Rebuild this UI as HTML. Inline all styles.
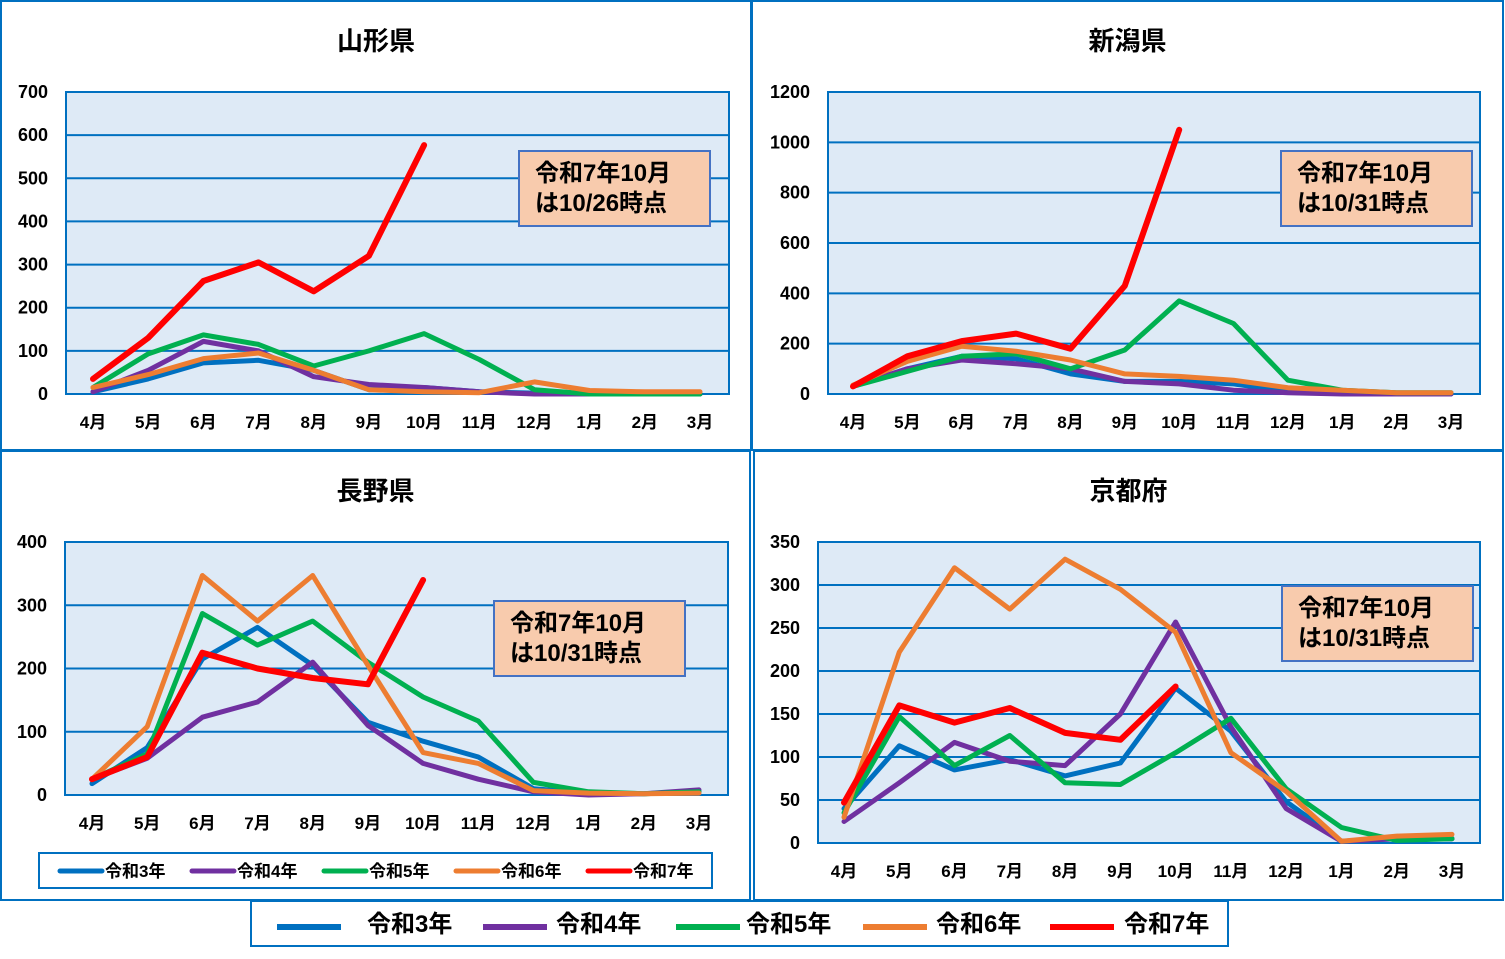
<!DOCTYPE html>
<html><head><meta charset="utf-8"><style>
html,body{margin:0;padding:0;background:#fff;}
svg text{font-family:"Liberation Sans","Noto Sans CJK JP",sans-serif;font-weight:bold;fill:#000;}
</style></head><body>
<svg id="s" width="1505" height="954" xmlns="http://www.w3.org/2000/svg"></svg>
<script>
const s=document.getElementById('s');let h='';
const C={b:'#0070C0',p:'#7030A0',g:'#00B050',o:'#ED7D31',r:'#FF0000'};
const M=['4月','5月','6月','7月','8月','9月','10月','11月','12月','1月','2月','3月'];
function panel(o){
 const {bx,by,bw,bh,title,px0,px1,py0,py1,max,step,m0,m1,note,nx,ny,data}=o;
 h+=`<rect x="${bx}" y="${by}" width="${bw}" height="${bh}" fill="#fff" stroke="#0070C0" stroke-width="2"/>`;
 h+=`<text x="${bx+bw/2}" y="${by+49}" font-size="26" text-anchor="middle">${title}</text>`;
 h+=`<rect x="${px0}" y="${py0}" width="${px1-px0}" height="${py1-py0}" fill="#DEEAF6" stroke="#0070C0" stroke-width="2"/>`;
 for(let v=0;v<=max;v+=step){const y=py1-(py1-py0)*v/max;
  h+=`<line x1="${px0}" x2="${px1}" y1="${y}" y2="${y}" stroke="#0070C0" stroke-width="2"/>`;
  h+=`<text x="${px0-18}" y="${y+6}" font-size="18" text-anchor="end">${v}</text>`;}
 const X=i=>m0+(m1-m0)*i/11;
 M.forEach((m,i)=>h+=`<text x="${X(i)}" y="${py1+34}" font-size="17" text-anchor="middle">${m}</text>`);
 for(const k of ['b','p','g','o','r']){const d=data[k];
  const pts=d.map((v,i)=>`${X(i).toFixed(1)},${(py1-(py1-py0)*v/max).toFixed(1)}`).join(' ');
  h+=`<polyline points="${pts}" fill="none" stroke="${C[k]}" stroke-width="${k=='r'?6:5}" stroke-linejoin="round" stroke-linecap="round"/>`;}
 if(note){h+=`<rect x="${nx}" y="${ny}" width="191" height="75" fill="#F8CBAD" stroke="#4472C4" stroke-width="2"/>`;
  h+=`<text x="${nx+16}" y="${ny+30}" font-size="24">令和7年10月</text><text x="${nx+16}" y="${ny+60}" font-size="24">は${note}時点</text>`;}
}
panel({bx:1,by:1,bw:750,bh:449,title:'山形県',px0:66,px1:729,py0:92,py1:394,max:700,step:100,m0:93,m1:700,note:'10/26',nx:519,ny:151,
data:{r:[35,130,262,305,238,320,577],g:[15,93,137,115,65,100,140,80,10,0,0,0],p:[5,55,122,100,40,22,15,5,0,0,0,0],b:[5,35,72,78,55,10,15,5,2,0,0,0],o:[15,45,82,95,55,10,5,3,28,8,5,5]}});
panel({bx:752,by:1,bw:751,bh:449,title:'新潟県',px0:828,px1:1480,py0:92,py1:394,max:1200,step:200,m0:853,m1:1451,note:'10/31',nx:1281,ny:151,
data:{r:[30,150,210,240,180,430,1050],g:[30,90,150,160,100,175,370,280,55,15,5,5],p:[30,100,135,120,100,50,40,15,5,0,0,0],b:[30,100,150,140,80,50,50,40,10,5,0,0],o:[35,130,190,170,135,80,70,55,25,15,5,5]}});
panel({bx:1,by:451,bw:749,bh:449,title:'長野県',px0:65,px1:728,py0:542,py1:795,max:400,step:100,m0:92,m1:699,note:'10/31',nx:494,ny:601,
data:{r:[25,60,225,200,185,175,340],g:[25,65,287,237,275,210,155,117,20,5,2,5],p:[25,58,123,147,210,110,50,25,5,0,2,8],b:[18,75,215,265,205,115,85,60,10,3,2,5],o:[25,108,347,275,347,205,67,50,7,3,2,3]}});
panel({bx:754,by:451,bw:749,bh:449,title:'京都府',px0:818,px1:1480,py0:542,py1:843,max:350,step:50,m0:844,m1:1452,note:'10/31',nx:1282,ny:586,
data:{r:[47,160,140,157,128,120,182],g:[35,147,90,125,70,68,105,145,63,18,3,5],p:[25,70,117,95,90,150,257,135,40,2,5,5],b:[40,113,85,97,78,93,180,130,48,2,5,5],o:[30,222,320,272,330,295,245,105,60,2,8,10]}});
h+=`<rect x="39" y="853" width="673" height="35" fill="#fff" stroke="#0070C0" stroke-width="2"/>`;
const L=[['b','令和3年',60],['p','令和4年',192],['g','令和5年',324],['o','令和6年',456],['r','令和7年',588]];
L.forEach(([k,t,x])=>{h+=`<line x1="${x}" x2="${x+42}" y1="871" y2="871" stroke="${C[k]}" stroke-width="5" stroke-linecap="round"/><text x="${x+45}" y="877" font-size="17">${t}</text>`;});
h+=`<rect x="251" y="901" width="977" height="45" fill="#fff" stroke="#0070C0" stroke-width="2"/>`;
const L2=[['b','令和3年',277,367],['p','令和4年',483,556],['g','令和5年',676,746],['o','令和6年',863,936],['r','令和7年',1050,1124]];
L2.forEach(([k,t,x,tx])=>{h+=`<rect x="${x}" y="924" width="64" height="6" fill="${C[k]}"/><text x="${tx}" y="932" font-size="24">${t}</text>`;});
s.innerHTML=h;
</script>
</body></html>
